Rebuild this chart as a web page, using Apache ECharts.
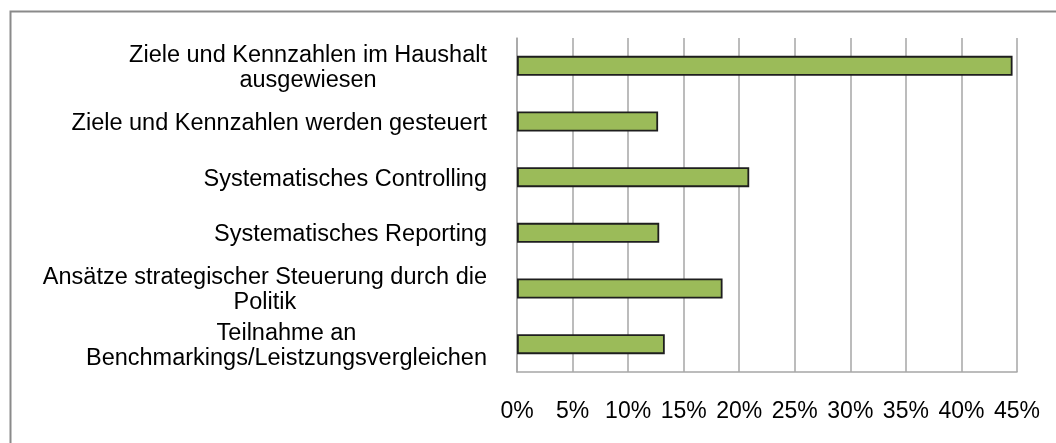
<!DOCTYPE html>
<html>
<head>
<meta charset="utf-8">
<script src="https://cdn.jsdelivr.net/npm/echarts@6/dist/echarts.min.js"></script>
<style>
  html, body { margin: 0; padding: 0; background: #fff; }
  #chart { width: 1056px; height: 443px; }
</style>
</head>
<body>
<div id="chart"></div>
<script>
var categories = [
    "Ziele und Kennzahlen im Haushalt\nausgewiesen",
    "Ziele und Kennzahlen werden gesteuert",
    "Systematisches Controlling",
    "Systematisches Reporting",
    "Ansätze strategischer Steuerung durch die\nPolitik",
    "Teilnahme an\nBenchmarkings/Leistzungsvergleichen"
];
var shares = [0.446, 0.127, 0.209, 0.128, 0.185, 0.133];
var tickStep = 0.05;
var tickMax = 0.45;

var dom = document.getElementById("chart");
var myChart = echarts.init(dom);

// each line centred inside the right-aligned label block
function centerLines(value) {
    return value.split("\n").map(function (line) {
        return "{c|" + line + "}";
    }).join("\n");
}

option = {
    backgroundColor: "#fff",
    animation: false,
    graphic: [{
        type: "rect",
        left: 8,
        top: 9,
        shape: { width: 1200, height: 600 },
        style: { fill: "none", stroke: "#8a8a8a", lineWidth: 2 },
        silent: true
    }],
    grid: {
        left: 517,
        top: 38,
        right: 39,
        bottom: 71
    },
    xAxis: {
        type: "value",
        min: 0,
        max: tickMax,
        interval: tickStep,
        axisLine: { show: true, lineStyle: { color: "#a6a6a6", width: 1.5 } },
        axisTick: { show: false },
        splitLine: { show: true, lineStyle: { color: "#a6a6a6", width: 1.5 } },
        axisLabel: {
            margin: 28,
            color: "#000",
            fontFamily: "Liberation Sans, Arial, sans-serif",
            fontSize: 23,
            formatter: function (v) { return Math.round(v * 100) + "%"; }
        }
    },
    yAxis: {
        type: "category",
        inverse: true,
        data: categories,
        axisLine: { show: true, lineStyle: { color: "#a6a6a6", width: 1.5 } },
        axisTick: { show: false },
        axisLabel: {
            margin: 30,
            color: "#000",
            fontFamily: "Liberation Sans, Arial, sans-serif",
            fontSize: 23.5,
            lineHeight: 25,
            padding: [4, 0, 0, 0],
            formatter: centerLines,
            rich: {
                c: {
                    align: "center",
                    color: "#000",
                    fontFamily: "Liberation Sans, Arial, sans-serif",
                    fontSize: 23.5,
                    lineHeight: 25
                }
            }
        }
    },
    series: [{
        type: "bar",
        data: shares,
        barWidth: 20,
        itemStyle: {
            color: "#9bbb59",
            borderColor: "#1e1e1e",
            borderWidth: 1.8
        }
    }]
};
if (option && typeof option === "object") {
    myChart.setOption(option, true);
}
</script>
</body>
</html>
